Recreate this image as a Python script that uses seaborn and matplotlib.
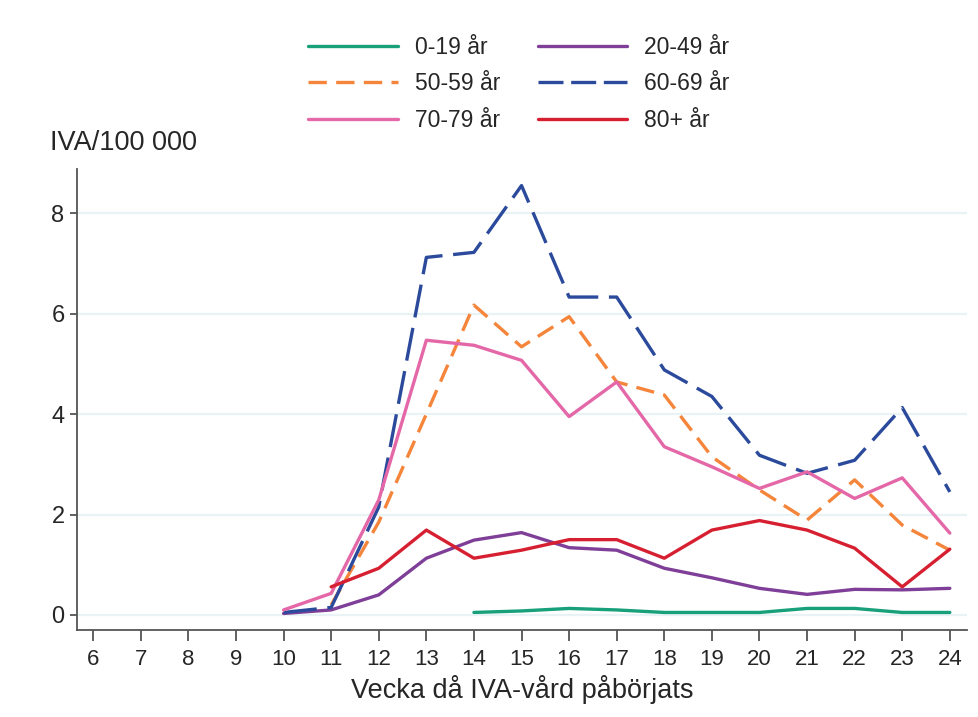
import numpy as np
import pandas as pd
import matplotlib
matplotlib.use("Agg")
import matplotlib.pyplot as plt
import seaborn as sns
from matplotlib.lines import Line2D

# Data: IVA per 100 000 by week and age group

labels = ["0-19 år", "20-49 år", "50-59 år", "60-69 år", "70-79 år", "80+ år"]

weeks_0_19 = list(range(14, 25))
iva_0_19 = [0.05, 0.08, 0.13, 0.10, 0.05, 0.05, 0.05, 0.13, 0.13, 0.05, 0.05]

weeks_20_49 = list(range(10, 25))
iva_20_49 = [0.03, 0.10, 0.40, 1.13, 1.49, 1.64, 1.34, 1.29, 0.93, 0.74, 0.53, 0.41, 0.51, 0.50, 0.53]

weeks_50_59 = list(range(11, 25))
iva_50_59 = [0.20, 1.85, 4.00, 6.17, 5.34, 5.94, 4.64, 4.38, 3.15, 2.49, 1.89, 2.69, 1.79, 1.29]

weeks_60_69 = list(range(10, 25))
iva_60_69 = [0.05, 0.15, 2.15, 7.12, 7.22, 8.55, 6.33, 6.33, 4.88, 4.35, 3.18, 2.82, 3.08, 4.13, 2.45]

weeks_70_79 = list(range(10, 25))
iva_70_79 = [0.10, 0.43, 2.29, 5.47, 5.37, 5.07, 3.95, 4.64, 3.35, 2.95, 2.52, 2.85, 2.32, 2.73, 1.63]

weeks_80 = list(range(11, 25))
iva_80 = [0.56, 0.93, 1.69, 1.13, 1.29, 1.50, 1.50, 1.13, 1.69, 1.88, 1.69, 1.33, 0.56, 1.31]

x_ticks = list(range(6, 25))
y_ticks = [0, 2, 4, 6, 8]

# name, weeks, values, colour, dashes in plot, dashes in legend
series = [
    (labels[0], weeks_0_19, iva_0_19, "#17a07a", None, None),
    (labels[1], weeks_20_49, iva_20_49, "#7f3f98", None, None),
    (labels[2], weeks_50_59, iva_50_59, "#f5853a", (5.5, 2.8), (5.5, 2.8)),
    (labels[3], weeks_60_69, iva_60_69, "#2b4a9c", (10, 3.2), (7.5, 2.3)),
    (labels[4], weeks_70_79, iva_70_79, "#e468a8", None, None),
    (labels[5], weeks_80, iva_80, "#d62031", None, None),
]

sns.set_style("white")
plt.rcParams["font.family"] = ["Liberation Sans", "DejaVu Sans"]

fig = plt.figure(figsize=(9.79, 7.17), dpi=100)
ax = fig.add_axes([0.0787, 0.1213, 0.9090, 0.6430])

for y in y_ticks:
    ax.axhline(y, color="#e9f2f4", lw=1.6, zorder=0)

handles = {}
for name, wk, vals, col, dash, leg_dash in series:
    df = pd.DataFrame({"week": wk, "iva": vals})
    sns.lineplot(data=df, x="week", y="iva", ax=ax, color=col, lw=2.4, zorder=3)
    line = ax.lines[-1]
    if dash is not None:
        line.set_dashes(dash)
    handles[name] = Line2D([], [], color=col, lw=2.4,
                           linestyle=(0, leg_dash) if leg_dash else "-")

ax.set_xlim(5.66, 24.36)
ax.set_ylim(-0.3, 8.88)
ax.set_xticks(x_ticks)
ax.set_yticks(y_ticks)
ax.tick_params(axis="x", length=8, width=1.3, color="#555555", labelsize=16, pad=6)
ax.tick_params(axis="y", length=5, width=1.3, color="#555555", labelsize=17, pad=4)
ax.tick_params(bottom=True, left=True)
for s in ["top", "right"]:
    ax.spines[s].set_visible(False)
for s in ["left", "bottom"]:
    ax.spines[s].set_color("#555555")
    ax.spines[s].set_linewidth(1.3)
ax.set_xlabel("Vecka då IVA-vård påbörjats", fontsize=19.5, labelpad=3)
ax.set_ylabel("")

fig.text(50 / 979, 1 - 150 / 717, "IVA/100 000", fontsize=19.5, va="baseline", ha="left")

order = [labels[0], labels[2], labels[4], labels[1], labels[3], labels[5]]
fig.legend([handles[n] for n in order], order, ncol=2, loc="center",
           bbox_to_anchor=(519 / 979, 1 - 84 / 717), frameon=False,
           fontsize=16.5, handlelength=3.9, handletextpad=0.75,
           columnspacing=1.65, labelspacing=0.6)

fig.savefig("out.png", dpi=100)
